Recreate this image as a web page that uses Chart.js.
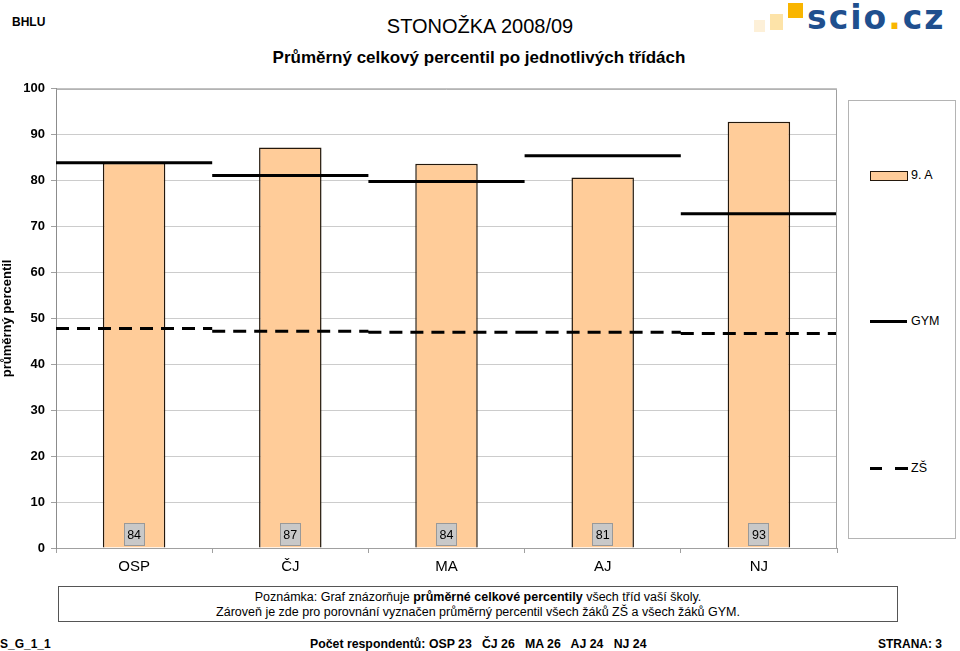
<!DOCTYPE html>
<html>
<head>
<meta charset="utf-8">
<script src="https://cdn.jsdelivr.net/npm/chart.js@4/dist/chart.umd.min.js"></script>
<style>
  body { margin: 0; width: 960px; height: 651px; background: #fff; font-family: "Liberation Sans", Arial, sans-serif; position: relative; overflow: hidden; }
  .abs { position: absolute; white-space: pre; }
  #wrap { position: absolute; left: 0; top: 75px; width: 845px; height: 505px; }
  #legend { position: absolute; left: 848px; top: 100px; width: 108px; height: 439px; border: 1px solid #b4b4b4; box-sizing: border-box; }
  .item { position: absolute; left: 20px; font-size: 12.5px; color: #000; }
  .logo-sq { position: absolute; }
</style>
</head>
<body>
<div class="abs" style="left:12px;top:15px;font-size:12px;font-weight:bold;">BHLU</div>
<div class="abs" style="left:0;width:960px;top:15px;text-align:center;font-size:20px;">STONOŽKA 2008/09</div>
<div class="abs" style="left:0;width:958px;top:48px;text-align:center;font-size:17px;font-weight:bold;">Průměrný celkový percentil po jednotlivých třídách</div>

<!-- logo -->
<div class="logo-sq" style="left:754px;top:20px;width:11px;height:12px;background:#fdf0d8;"></div>
<div class="logo-sq" style="left:770px;top:14px;width:13px;height:16px;background:#fde3a8;"></div>
<div class="logo-sq" style="left:788px;top:3px;width:15px;height:15px;background:#f9b500;"></div>
<div class="abs" style="left:807px;top:-2px;font-family:'DejaVu Sans';font-weight:bold;font-size:33px;color:#1f4f8e;letter-spacing:2px;">scio<span style="color:#f9b500">.</span>cz</div>

<div id="wrap"><canvas id="chart"></canvas></div>
<div id="legend"></div>

<div class="abs" style="left:58px;top:586px;width:840px;height:36px;border:1px solid #555;box-sizing:border-box;text-align:center;font-size:12.5px;line-height:15px;padding-top:3px;">Poznámka: Graf znázorňuje <b>průměrné celkové percentily</b> všech tříd vaší školy.
Zároveň je zde pro porovnání vyznačen průměrný percentil všech žáků ZŠ a všech žáků GYM.</div>

<div class="abs" style="left:0;top:637px;font-size:12px;font-weight:bold;">S_G_1_1</div>
<div class="abs" style="left:310px;top:637px;font-size:12.3px;font-weight:bold;">Počet respondentů: OSP 23   ČJ 26   MA 26   AJ 24   NJ 24</div>
<div class="abs" style="left:878px;top:637px;font-size:12px;font-weight:bold;">STRANA: 3</div>

<script>
var categories = ["OSP", "ČJ", "MA", "AJ", "NJ"];
var classValues = [83.9, 87.2, 83.7, 80.7, 92.8];   // 9. A
var gymValues = [83.9, 81.1, 79.8, 85.4, 72.8];     // GYM
var zsValues = [47.8, 47.2, 47.0, 47.0, 46.7];      // ZŠ
var yTicks = [0, 10, 20, 30, 40, 50, 60, 70, 80, 90, 100];
var seriesNames = ["9. A", "GYM", "ZŠ"];

// one flat segment over the whole width of each category
function segments(values) {
  var pts = [];
  values.forEach(function (v, i) {
    pts.push({ x: i - 0.5, y: v }, { x: i + 0.5, y: v }, { x: i + 0.5, y: null });
  });
  return pts;
}

var boxPlugin = {
  id: "boxes",
  afterDraw: function (chart) {
    var ctx = chart.ctx, a = chart.chartArea;
    ctx.save();
    ctx.strokeStyle = "#a0a0a0";
    ctx.lineWidth = 1;
    ctx.beginPath();
    ctx.moveTo(a.left, a.top + 0.5);
    ctx.lineTo(a.right - 0.5, a.top + 0.5);
    ctx.lineTo(a.right - 0.5, a.bottom);
    ctx.stroke();
    // value labels at the bottom of each bar
    var meta = chart.getDatasetMeta(0);
    ctx.font = "12.5px 'Liberation Sans', Arial";
    ctx.textAlign = "center";
    ctx.textBaseline = "middle";
    meta.data.forEach(function (bar, i) {
      var w = 21, h = 23;
      var x = Math.round(bar.x - w / 2), y = a.bottom - 2 - h;
      ctx.fillStyle = "#c8c8c8";
      ctx.fillRect(x, y, w, h);
      ctx.strokeStyle = "#999";
      ctx.strokeRect(x + 0.5, y + 0.5, w - 1, h - 1);
      ctx.fillStyle = "#000";
      ctx.fillText(String(Math.round(classValues[i])), bar.x, y + h / 2 + 1);
    });
    ctx.restore();
  }
};

var chart = new Chart(document.getElementById("chart"), {
  type: "bar",
  data: {
    labels: categories,
    datasets: [
      {
        label: seriesNames[0],
        data: classValues,
        backgroundColor: "#ffcc99",
        borderColor: "#24180c",
        borderWidth: 1.5,
        barPercentage: 0.4,
        categoryPercentage: 1,
        grouped: false,
        order: 3
      },
      {
        type: "line",
        label: seriesNames[1],
        data: segments(gymValues),
        xAxisID: "x2",
        borderColor: "#000",
        borderWidth: 3,
        pointRadius: 0,
        spanGaps: false,
        order: 1
      },
      {
        type: "line",
        label: seriesNames[2],
        data: segments(zsValues),
        xAxisID: "x2",
        borderColor: "#000",
        borderWidth: 3,
        borderDash: [13, 8],
        pointRadius: 0,
        spanGaps: false,
        order: 2
      }
    ]
  },
  options: {
    responsive: true,
    maintainAspectRatio: false,
    animation: false,
    layout: { padding: { top: 8, right: 8, left: 0, bottom: 0 } },
    plugins: { legend: { display: false }, tooltip: { enabled: false } },
    scales: {
      x: {
        grid: { offset: true, drawOnChartArea: false, drawTicks: true, tickLength: 5, color: "#a0a0a0" },
        border: { color: "#a0a0a0" },
        ticks: { color: "#000", font: { size: 15, family: "'Liberation Sans', Arial" }, padding: 5 },
        afterFit: function (s) { s.height = 32; }
      },
      x2: { type: "linear", display: false, offset: false, min: -0.5, max: 4.5 },
      y: {
        min: 0,
        max: 100,
        afterBuildTicks: function (s) { s.ticks = yTicks.map(function (v) { return { value: v }; }); },
        grid: { color: "#cccccc", tickLength: 5, tickColor: "#a0a0a0" },
        border: { color: "#8c8c8c" },
        ticks: { color: "#000", font: { size: 13, weight: "bold", family: "'Liberation Sans', Arial" }, padding: 6 },
        title: { display: true, text: "průměrný percentil", color: "#000", font: { size: 13, weight: "bold", family: "'Liberation Sans', Arial" }, padding: 0 },
        afterFit: function (s) { s.width = 56; }
      }
    }
  },
  plugins: [boxPlugin]
});

// legend in a separate framed box on the right
(function () {
  var lg = document.getElementById("legend");
  var html = "";
  html += '<div style="position:absolute;left:21px;top:70px;width:36px;height:8px;background:#ffcc99;border:1px solid #24180c;"></div>';
  html += '<div class="item" style="left:62px;top:67px;">' + seriesNames[0] + '</div>';
  html += '<div style="position:absolute;left:21px;top:219px;width:37px;height:3px;background:#000;"></div>';
  html += '<div class="item" style="left:62px;top:213px;">' + seriesNames[1] + '</div>';
  html += '<div style="position:absolute;left:21px;top:366px;width:12px;height:3px;background:#000;"></div>';
  html += '<div style="position:absolute;left:46px;top:366px;width:13px;height:3px;background:#000;"></div>';
  html += '<div class="item" style="left:62px;top:360px;">' + seriesNames[2] + '</div>';
  lg.innerHTML = html;
})();
</script>
</body>
</html>
